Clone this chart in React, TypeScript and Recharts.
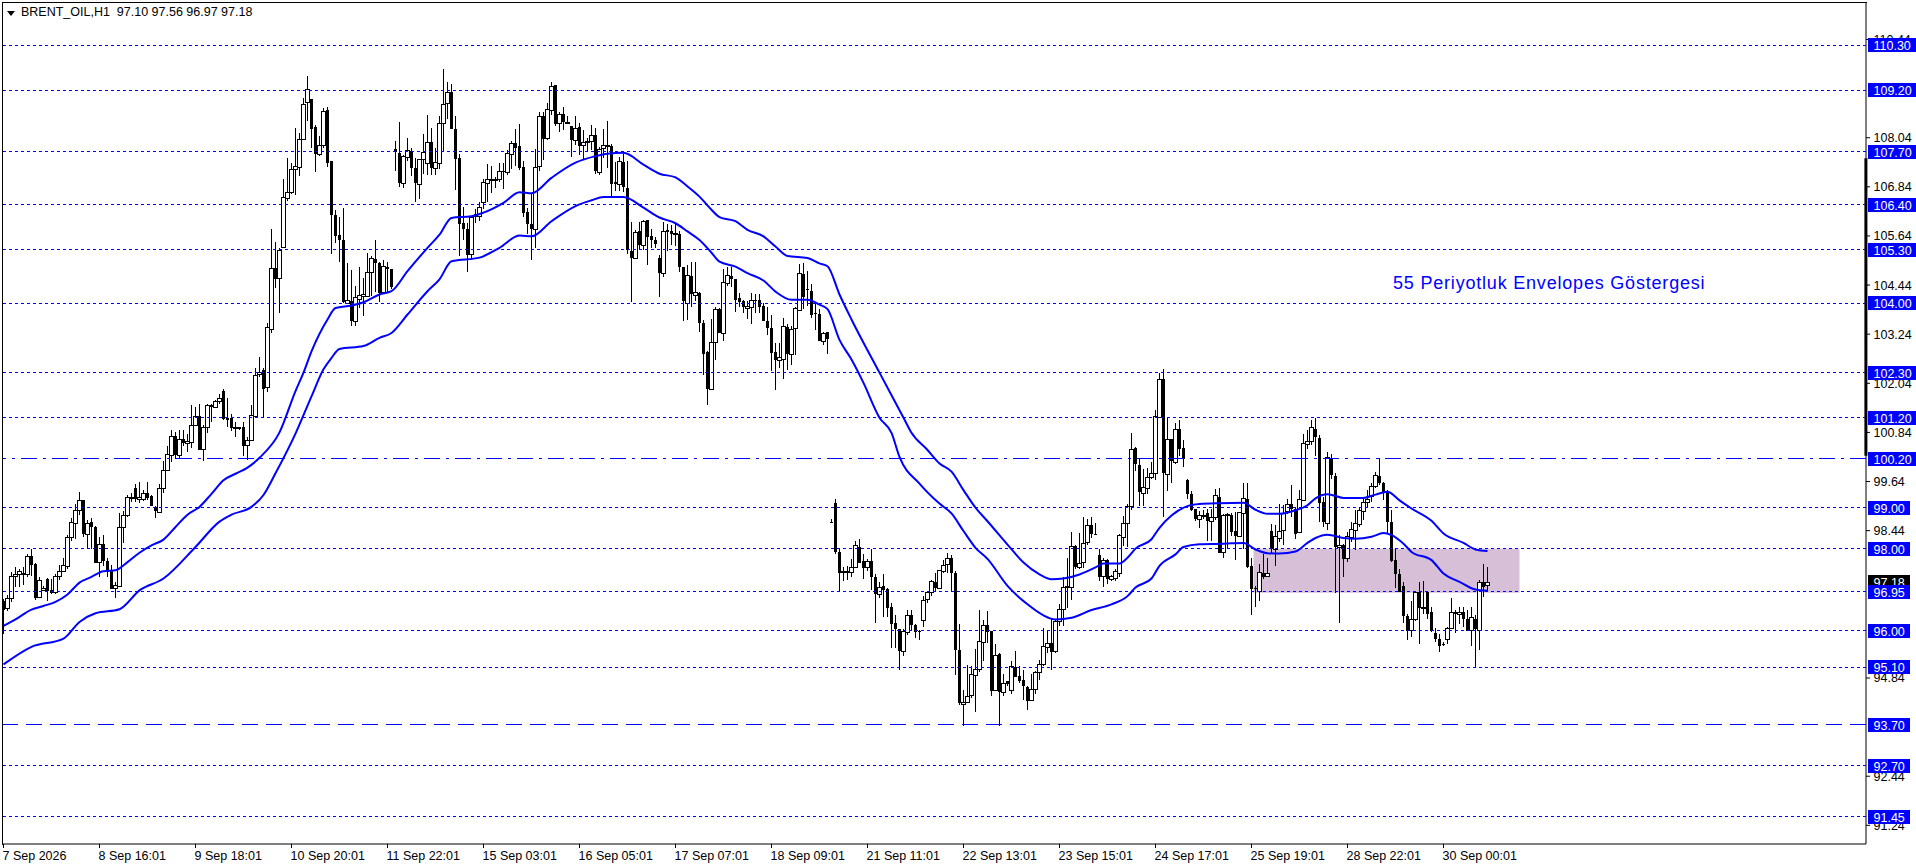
import {
  ComposedChart,
  Bar,
  Line,
  XAxis,
  YAxis,
  ReferenceLine,
  ReferenceArea,
} from "recharts";

const FONT = '"Liberation Sans", Arial, sans-serif';
const BLUE = "#0000ff";
const PRICE_DOMAIN = [90.784, 111.331];

const opens = [
  96.72, 96.54, 96.8, 97.33, 97.38, 97.41, 97.39, 97.83, 97.62, 96.82,
  96.99, 97.27, 97.0, 96.93, 97.33, 97.46, 97.58, 98.29, 98.63, 98.94,
  99.2, 98.37, 98.64, 98.54, 97.67, 98.12, 97.71, 97.49, 97.04, 97.08,
  98.53, 98.81, 99.25, 99.47, 99.21, 99.22, 99.37, 99.28, 99.02, 98.9,
  99.47, 99.92, 100.28, 100.75, 100.28, 100.69, 100.58, 100.61, 101.01, 101.25,
  100.44, 100.97, 101.49, 101.46, 101.61, 101.84, 101.18, 101.18, 100.95, 100.96,
  100.96, 100.54, 100.66, 101.25, 102.26, 102.36, 101.94, 103.36, 104.85, 104.61,
  105.38, 106.56, 106.72, 107.27, 107.32, 108.0, 108.91, 108.98, 108.3, 107.64,
  107.86, 108.72, 107.48, 106.15, 105.67, 105.54, 104.0, 104.05, 103.57, 104.11,
  104.18, 104.18, 104.75, 105.07, 104.99, 104.26, 104.88, 104.83, 107.76, 107.66,
  106.94, 107.58, 107.71, 107.29, 106.91, 107.51, 107.42, 107.94, 107.3, 107.43,
  108.41, 108.88, 109.16, 108.25, 107.55, 105.95, 105.8, 105.19, 106.18, 106.13,
  106.48, 106.93, 107.03, 107.03, 107.03, 107.23, 107.2, 107.64, 107.91, 107.84,
  107.33, 106.22, 105.93, 105.82, 107.34, 108.56, 108.04, 108.72, 109.33, 108.41,
  108.62, 108.43, 108.33, 107.99, 108.3, 107.85, 107.93, 107.97, 108.11, 107.21,
  107.8, 107.84, 107.84, 106.96, 106.92, 107.45, 106.81, 105.28, 105.09, 105.76,
  105.43, 106.02, 105.64, 105.54, 105.1, 104.73, 105.79, 105.76, 105.7, 105.69,
  104.89, 104.01, 104.66, 104.2, 104.24, 103.51, 102.8, 101.91, 103.06, 103.85,
  103.28, 104.5, 104.66, 104.58, 104.12, 104.04, 103.87, 103.9, 104.08, 104.08,
  103.93, 103.56, 103.39, 102.8, 102.61, 102.64, 103.42, 102.75, 103.38, 103.83,
  104.71, 104.35, 104.29, 103.75, 103.74, 103.08, 103.29, 98.66, 99.11, 97.93,
  97.44, 97.45, 97.43, 97.55, 98.05, 97.69, 97.55, 97.69, 97.3, 96.89,
  97.09, 97.02, 96.58, 96.19, 96.03, 95.49, 95.96, 96.39, 96.13, 95.99,
  96.26, 96.77, 96.95, 97.19, 97.04, 97.45, 97.62, 97.78, 97.41, 95.52,
  94.21, 94.26, 94.42, 94.92, 95.05, 95.72, 96.13, 95.98, 94.54, 95.42,
  94.5, 94.76, 94.55, 95.1, 94.9, 94.8, 94.63, 94.3, 94.56, 94.98,
  95.17, 95.6, 95.69, 95.49, 96.23, 96.53, 97.08, 97.07, 98.06, 97.56,
  97.67, 98.16, 98.57, 98.37, 97.84, 97.33, 97.72, 97.26, 97.29, 97.41,
  98.29, 98.62, 99.04, 100.45, 100.05, 99.35, 99.48, 99.75, 99.84, 101.22,
  102.15, 99.82, 100.69, 100.12, 100.93, 100.47, 99.67, 99.33, 98.96, 98.72,
  98.82, 98.86, 98.67, 98.77, 99.27, 97.92, 98.84, 98.81, 98.44, 98.31,
  98.88, 99.22, 97.58, 97.03, 96.96, 97.41, 97.34, 98.44, 98.0, 98.25,
  98.45, 98.91, 99.1, 98.98, 98.41, 99.2, 100.56, 100.64, 100.93, 100.71,
  99.15, 98.63, 100.22, 99.78, 98.04, 98.09, 97.76, 98.29, 98.45, 98.61,
  98.92, 99.15, 99.28, 99.52, 99.77, 99.61, 99.39, 98.65, 97.73, 97.39,
  97.08, 96.35, 96.02, 96.27, 96.94, 96.58, 96.94, 96.44, 95.94, 95.8,
  95.68, 95.79, 96.07, 96.45, 96.41, 96.46, 96.29, 96.01, 96.29, 96.01,
  97.18, 97.1,
];
const closes = [
  96.5, 96.8, 97.33, 97.39, 97.45, 97.36, 97.83, 97.6, 96.79, 97.24,
  97.05, 96.96, 96.92, 97.32, 97.46, 97.59, 98.29, 98.66, 98.95, 99.2,
  98.35, 98.63, 98.52, 97.65, 98.12, 97.7, 97.44, 97.02, 97.1, 98.54,
  98.83, 99.25, 99.26, 99.21, 99.27, 99.37, 99.24, 99.04, 98.92, 99.47,
  99.92, 100.31, 100.75, 100.28, 100.69, 100.57, 100.64, 101.03, 101.25, 100.41,
  100.96, 101.52, 101.5, 101.61, 101.68, 101.16, 101.15, 100.95, 100.96, 100.92,
  100.51, 100.66, 101.27, 102.25, 102.31, 101.89, 103.42, 104.85, 104.58, 105.3,
  106.59, 106.71, 107.28, 107.34, 108.0, 108.86, 109.22, 108.26, 107.63, 107.86,
  108.69, 107.43, 106.14, 105.63, 105.54, 104.02, 104.08, 103.57, 104.14, 104.19,
  104.22, 104.75, 105.1, 104.99, 104.24, 104.91, 104.83, 104.4, 107.69, 106.94,
  107.6, 107.73, 107.29, 106.93, 107.51, 107.7, 107.94, 107.29, 107.45, 108.39,
  108.86, 109.16, 108.26, 107.51, 105.92, 105.82, 105.17, 106.11, 106.11, 106.34,
  106.95, 107.03, 107.04, 107.04, 107.22, 107.2, 107.66, 107.91, 107.8, 107.31,
  106.21, 105.92, 105.82, 107.32, 108.57, 108.02, 108.74, 109.3, 108.37, 108.61,
  108.43, 108.43, 107.99, 108.28, 107.84, 107.93, 107.97, 108.11, 107.23, 107.77,
  107.86, 107.86, 106.91, 106.9, 107.47, 106.83, 105.3, 105.11, 105.74, 105.43,
  106.01, 105.62, 105.53, 105.45, 104.73, 105.77, 105.74, 105.69, 105.71, 104.87,
  104.04, 104.68, 104.22, 104.27, 103.51, 102.76, 101.91, 103.04, 103.86, 103.26,
  104.52, 104.68, 104.6, 104.08, 104.03, 103.91, 103.93, 104.08, 104.04, 103.91,
  103.57, 103.38, 102.79, 102.6, 102.68, 103.43, 102.75, 103.36, 103.88, 104.73,
  104.14, 104.31, 103.71, 103.73, 103.08, 103.26, 103.13, 98.65, 97.92, 97.41,
  97.45, 97.46, 97.54, 98.08, 97.65, 97.53, 97.69, 97.31, 96.89, 97.07,
  97.0, 96.55, 96.16, 96.03, 95.49, 95.98, 96.39, 96.13, 95.96, 95.96,
  96.75, 96.93, 97.22, 97.05, 97.47, 97.61, 97.78, 97.4, 95.52, 94.22,
  94.26, 94.4, 94.94, 95.05, 95.75, 96.14, 95.96, 94.52, 95.41, 94.5,
  94.72, 94.69, 95.13, 94.86, 94.77, 94.64, 94.28, 94.57, 94.98, 95.17,
  95.63, 95.7, 95.47, 96.24, 96.53, 97.07, 97.09, 98.06, 97.54, 97.66,
  98.15, 98.57, 98.35, 98.34, 97.31, 97.72, 97.25, 97.32, 97.45, 98.33,
  98.62, 99.04, 100.44, 100.06, 99.38, 99.51, 99.76, 99.86, 101.24, 102.15,
  99.84, 100.69, 100.14, 100.93, 100.43, 100.2, 99.34, 98.95, 98.73, 98.82,
  98.83, 98.67, 98.78, 99.3, 97.9, 98.81, 98.85, 98.41, 98.31, 98.9,
  99.23, 97.56, 97.01, 97.01, 97.44, 97.31, 97.41, 98.0, 98.3, 98.44,
  98.87, 99.1, 98.98, 98.37, 99.22, 100.57, 100.64, 100.96, 100.73, 99.12,
  98.65, 100.24, 99.79, 98.04, 98.09, 97.74, 98.3, 98.47, 98.63, 98.94,
  99.15, 99.21, 99.52, 99.79, 99.61, 99.39, 98.65, 97.7, 97.38, 96.94,
  96.35, 95.99, 96.29, 96.94, 96.56, 96.58, 96.41, 95.99, 95.79, 95.62,
  95.65, 96.07, 96.44, 96.4, 96.44, 96.27, 95.99, 96.32, 96.03, 97.18,
  97.06, 97.18,
];
const highs = [
  96.78, 96.86, 97.43, 97.55, 97.51, 97.55, 97.86, 98.0, 97.65, 97.31,
  97.08, 97.28, 97.26, 97.39, 97.59, 97.76, 98.33, 98.76, 99.1, 99.39,
  99.2, 98.69, 98.76, 98.55, 98.29, 98.33, 97.78, 97.59, 97.18, 98.86,
  98.92, 99.3, 99.37, 99.59, 99.64, 99.44, 99.63, 99.3, 99.04, 99.57,
  100.13, 100.5, 100.91, 100.85, 100.91, 100.91, 100.81, 101.5, 101.46, 101.53,
  101.01, 101.53, 101.53, 101.64, 101.77, 101.89, 101.67, 101.3, 101.1, 100.97,
  101.1, 100.73, 101.5, 102.41, 102.67, 102.42, 103.52, 105.81, 105.49, 105.34,
  107.03, 107.54, 107.43, 108.27, 108.15, 109.0, 109.55, 108.98, 108.35, 108.08,
  108.76, 108.78, 107.48, 106.28, 106.11, 106.32, 104.97, 104.81, 104.42, 104.89,
  104.61, 105.22, 105.14, 105.54, 105.01, 105.04, 105.01, 104.84, 107.95, 108.43,
  107.62, 108.03, 107.78, 107.54, 107.51, 108.13, 108.6, 108.27, 107.78, 108.56,
  109.73, 109.4, 109.35, 108.57, 107.64, 106.34, 105.95, 106.11, 106.3, 106.46,
  107.03, 107.4, 107.35, 107.09, 107.43, 107.43, 107.73, 107.95, 108.25, 108.38,
  107.46, 106.32, 106.68, 107.76, 108.68, 108.68, 108.88, 109.4, 109.33, 108.66,
  108.78, 108.57, 108.33, 108.57, 108.41, 108.23, 108.03, 108.35, 108.27, 107.81,
  108.25, 108.45, 107.89, 107.45, 107.56, 107.7, 107.46, 105.97, 105.79, 105.97,
  106.03, 106.03, 105.81, 105.62, 105.18, 105.97, 105.93, 105.9, 105.95, 105.75,
  104.89, 104.93, 105.01, 105.01, 104.26, 103.59, 102.82, 103.6, 103.9, 103.87,
  104.83, 104.89, 104.89, 104.58, 104.24, 104.08, 104.04, 104.24, 104.22, 104.22,
  104.0, 103.91, 103.71, 103.02, 103.02, 103.63, 103.49, 103.43, 103.91, 104.96,
  104.97, 104.79, 104.46, 104.0, 103.85, 103.3, 103.29, 98.72, 99.22, 98.0,
  97.56, 97.58, 97.74, 98.19, 98.23, 97.86, 97.74, 97.98, 97.37, 97.19,
  97.37, 97.05, 96.68, 96.37, 96.04, 96.03, 96.5, 96.5, 96.16, 96.01,
  96.84, 96.94, 97.23, 97.41, 97.49, 97.72, 97.9, 97.85, 97.45, 96.15,
  94.54, 95.16, 95.13, 95.56, 96.49, 96.26, 96.47, 95.98, 95.66, 95.46,
  94.93, 94.76, 95.26, 95.49, 95.13, 95.03, 94.64, 94.93, 95.01, 95.29,
  96.07, 96.01, 96.31, 96.26, 96.64, 97.31, 97.76, 98.41, 98.1, 98.39,
  98.78, 98.72, 98.78, 98.63, 97.98, 97.78, 97.74, 97.35, 97.51, 98.35,
  98.8, 99.08, 100.83, 100.48, 100.22, 99.94, 99.98, 100.12, 101.39, 102.28,
  102.38, 101.2, 100.69, 101.08, 101.14, 100.65, 99.69, 99.41, 98.98, 98.92,
  98.94, 98.98, 98.98, 99.45, 99.49, 98.84, 98.88, 98.88, 98.9, 98.9,
  99.6, 99.61, 97.76, 97.09, 97.62, 97.88, 97.78, 98.61, 98.57, 99.1,
  99.06, 99.22, 99.55, 99.02, 99.43, 100.79, 100.89, 101.14, 101.2, 100.77,
  99.25, 100.36, 100.32, 99.86, 98.33, 98.12, 98.41, 98.65, 98.94, 99.02,
  99.25, 99.43, 99.61, 99.87, 100.22, 99.63, 99.43, 98.94, 98.0, 97.51,
  97.18, 96.41, 96.72, 96.94, 97.18, 97.2, 96.94, 96.58, 96.07, 95.92,
  95.72, 96.09, 96.8, 96.49, 96.58, 96.58, 96.49, 96.58, 96.37, 97.23,
  97.63, 97.56,
];
const lows = [
  95.93, 96.48, 96.7, 97.06, 97.08, 97.11, 97.29, 97.35, 96.74, 96.8,
  96.98, 96.71, 96.89, 96.9, 97.23, 97.42, 97.51, 98.19, 98.25, 98.84,
  98.29, 98.0, 98.0, 97.65, 97.31, 97.57, 97.31, 97.0, 96.78, 97.06,
  98.14, 98.76, 99.14, 99.14, 99.12, 99.17, 99.18, 99.02, 98.75, 98.86,
  99.34, 99.92, 100.12, 100.18, 100.2, 100.53, 100.36, 100.44, 101.01, 100.41,
  100.12, 100.83, 101.1, 101.46, 101.53, 101.14, 100.96, 100.89, 100.73, 100.89,
  100.28, 100.16, 100.63, 101.22, 102.18, 101.2, 101.84, 103.28, 104.36, 103.75,
  105.34, 106.48, 106.67, 106.64, 107.09, 108.0, 108.46, 107.78, 107.21, 107.58,
  107.78, 107.31, 105.2, 105.48, 105.01, 104.0, 103.96, 103.43, 103.44, 103.9,
  103.69, 104.16, 104.16, 104.28, 104.04, 104.24, 104.28, 104.36, 107.21, 106.83,
  106.81, 107.46, 107.09, 106.46, 106.53, 107.16, 107.13, 107.11, 107.13, 107.27,
  107.7, 108.49, 108.26, 106.75, 105.15, 105.54, 104.75, 105.05, 105.95, 105.99,
  106.29, 106.48, 106.7, 106.83, 106.97, 106.8, 107.13, 107.27, 107.34, 107.25,
  106.09, 105.69, 105.05, 105.34, 107.24, 107.5, 107.97, 108.59, 108.33, 108.18,
  108.21, 108.37, 107.58, 107.86, 107.62, 107.5, 107.7, 107.74, 107.15, 107.13,
  107.54, 107.29, 106.62, 106.75, 106.72, 106.72, 105.2, 104.01, 105.07, 105.32,
  105.3, 104.93, 105.35, 105.34, 104.16, 104.62, 105.28, 105.42, 105.38, 104.75,
  103.57, 103.59, 103.91, 104.06, 103.28, 102.25, 101.49, 101.91, 102.61, 103.26,
  103.06, 104.42, 104.4, 103.78, 103.91, 103.77, 103.59, 103.49, 103.75, 103.75,
  103.55, 103.22, 102.33, 101.86, 102.41, 102.14, 102.37, 102.47, 102.73, 103.82,
  103.85, 103.93, 103.63, 103.33, 103.06, 102.98, 102.76, 98.63, 97.88, 96.94,
  97.23, 97.23, 97.31, 97.53, 97.64, 97.25, 97.45, 96.99, 96.17, 96.8,
  96.33, 96.34, 95.59, 95.56, 95.03, 95.38, 95.88, 96.01, 95.81, 95.77,
  96.08, 96.66, 96.83, 96.96, 97.04, 97.4, 97.41, 96.96, 94.9, 94.17,
  93.67, 94.24, 94.36, 94.03, 94.97, 95.27, 95.69, 94.4, 94.52, 93.67,
  94.4, 94.64, 94.46, 94.85, 94.72, 94.3, 94.06, 94.28, 94.46, 94.79,
  95.13, 95.46, 95.03, 95.46, 96.11, 96.11, 96.53, 96.74, 97.51, 97.51,
  97.53, 98.08, 98.27, 98.33, 97.21, 97.06, 97.13, 97.21, 97.21, 97.29,
  98.07, 98.02, 98.96, 99.9, 99.04, 99.04, 99.35, 99.71, 99.68, 101.2,
  98.77, 99.41, 99.61, 100.09, 100.26, 100.0, 99.19, 98.92, 98.69, 98.51,
  98.73, 98.19, 98.19, 98.7, 97.89, 97.76, 98.02, 98.31, 97.72, 98.29,
  97.98, 97.54, 96.37, 96.58, 96.72, 97.27, 97.34, 97.88, 97.57, 98.16,
  98.08, 98.86, 98.77, 98.25, 98.38, 99.18, 100.43, 100.53, 100.28, 98.65,
  98.51, 98.45, 99.71, 96.92, 96.17, 97.31, 97.68, 98.16, 97.96, 98.53,
  98.69, 98.98, 99.14, 99.49, 99.55, 99.18, 98.38, 97.68, 97.04, 96.94,
  96.17, 95.78, 95.84, 96.23, 95.66, 96.4, 96.27, 95.97, 95.72, 95.48,
  95.62, 95.68, 96.07, 95.94, 96.17, 96.09, 95.97, 95.62, 95.07, 95.52,
  96.82, 96.97,
];

// envelope knots, [bar, price]
const upperKnots = [
  [0, 96.11], [3, 96.27], [7, 96.51], [10, 96.6], [13, 96.7], [16, 96.88], [19, 97.17], [22, 97.31],
  [25, 97.45], [28, 97.47], [31, 97.67], [34, 97.9], [37, 98.08], [40, 98.22], [43, 98.53], [46, 98.83],
  [49, 99.02], [52, 99.34], [55, 99.67], [58, 99.83], [61, 99.98], [64, 100.22], [69, 100.84], [73, 101.85],
  [75, 102.3], [77, 102.82], [81, 103.6], [83, 103.88], [87, 103.94], [90, 104.02], [94, 104.21], [97, 104.29],
  [101, 104.78], [106, 105.35], [109, 105.67], [112, 106.08], [117, 106.12], [120, 106.21], [125, 106.45], [129, 106.71],
  [132, 106.68], [137, 107.06], [143, 107.43], [148, 107.59], [151, 107.65], [155, 107.67], [160, 107.38], [164, 107.16],
  [168, 107.07], [171, 106.85], [174, 106.6], [177, 106.28], [179, 106.1], [183, 106.0], [186, 105.79], [190, 105.63],
  [193, 105.38], [196, 105.15], [201, 105.1], [204, 104.97], [206, 104.9], [209, 104.21], [212, 103.6], [219, 102.3],
  [225, 101.2], [227, 100.83], [231, 100.41], [234, 100.08], [237, 99.88], [240, 99.43], [243, 99.0], [246, 98.67],
  [251, 98.1], [255, 97.66], [259, 97.37], [262, 97.25], [265, 97.27], [269, 97.37], [273, 97.54], [275, 97.64],
  [279, 97.64], [281, 97.78], [283, 98.0], [287, 98.23], [289, 98.51], [292, 98.81], [296, 99.04], [299, 99.09],
  [304, 99.11], [310, 99.12], [313, 98.95], [316, 98.85], [319, 98.85], [323, 98.94], [326, 99.06], [328, 99.23],
  [331, 99.33], [335, 99.24], [340, 99.24], [343, 99.32], [346, 99.39], [349, 99.18], [352, 98.98], [357, 98.68],
  [360, 98.37], [365, 98.14], [368, 97.98], [371, 97.94],
];
const lowerKnots = [
  [0, 95.17], [7, 95.6], [15, 95.8], [19, 96.21], [23, 96.42], [29, 96.52], [34, 96.98], [40, 97.27],
  [48, 98.04], [54, 98.66], [57, 98.83], [62, 99.02], [65, 99.31], [68, 99.84], [73, 100.81], [77, 101.72],
  [80, 102.38], [82, 102.66], [84, 102.88], [90, 102.95], [94, 103.15], [97, 103.27], [101, 103.72], [106, 104.29],
  [109, 104.58], [112, 105.02], [119, 105.11], [124, 105.35], [129, 105.65], [132, 105.63], [137, 106.0], [143, 106.37],
  [147, 106.51], [150, 106.59], [155, 106.59], [160, 106.33], [164, 106.09], [168, 105.95], [171, 105.75], [174, 105.54],
  [177, 105.23], [179, 105.01], [183, 104.89], [186, 104.73], [190, 104.55], [193, 104.28], [197, 104.08], [201, 104.08],
  [204, 103.96], [206, 103.85], [209, 103.1], [212, 102.62], [215, 102.05], [219, 101.2], [222, 100.83], [224, 100.24],
  [229, 99.59], [234, 99.1], [237, 98.86], [240, 98.43], [243, 98.02], [246, 97.75], [251, 97.09], [256, 96.64],
  [260, 96.37], [263, 96.27], [267, 96.31], [272, 96.5], [277, 96.64], [281, 96.84], [283, 97.05], [287, 97.27],
  [289, 97.58], [293, 97.86], [295, 98.04], [299, 98.11], [305, 98.12], [310, 98.14], [313, 97.98], [316, 97.89],
  [319, 97.88], [323, 97.93], [326, 98.14], [328, 98.26], [331, 98.34], [335, 98.26], [338, 98.24], [342, 98.29],
  [345, 98.38], [347, 98.33], [350, 98.12], [352, 97.92], [357, 97.72], [360, 97.39], [364, 97.19], [368, 97.0],
  [371, 96.97],
];

const dottedLevels = [110.3, 109.2, 107.7, 106.4, 105.3, 104.0, 102.3, 101.2, 99.0, 98.0, 96.95, 96.0, 95.1, 92.7, 91.45];
const dashDotLevels = [100.2];
const dashLevels = [93.7];
const priceTicks = [110.44, 108.04, 106.84, 105.64, 104.44, 103.24, 102.04, 100.84, 99.64, 98.44, 94.84, 92.44, 91.24];
const dateTicks = [0, 24, 48, 72, 96, 120, 144, 168, 192, 216, 240, 264, 288, 312, 336, 360];
const dateLabels = [
  "7 Sep 2026", "8 Sep 16:01", "9 Sep 18:01", "10 Sep 20:01", "11 Sep 22:01", "15 Sep 03:01",
  "16 Sep 05:01", "17 Sep 07:01", "18 Sep 09:01", "21 Sep 11:01", "22 Sep 13:01", "23 Sep 15:01",
  "24 Sep 17:01", "25 Sep 19:01", "28 Sep 22:01", "30 Sep 00:01",
];
const lastPrice = 97.18;
const tagTicks = [lastPrice, ...dottedLevels, ...dashDotLevels, ...dashLevels];

const upperByBar = new Map(upperKnots.map(([b, v]) => [b, v]));
const lowerByBar = new Map(lowerKnots.map(([b, v]) => [b, v]));

const rows = opens.map((open, i) => ({
  bar: i,
  open,
  close: closes[i],
  high: highs[i],
  low: lows[i],
  range: [lows[i], highs[i]],
  upper: upperByBar.get(i),
  lower: lowerByBar.get(i),
}));

function Candle(props: any) {
  const { x, y, width, height, payload } = props;
  const { open, close, high, low } = payload;
  const cx = Math.floor(x + width / 2);
  const perUnit = high > low ? height / (high - low) : 0;
  const top = Math.round(y + (high - Math.max(open, close)) * perUnit);
  const bottom = Math.round(y + (high - Math.min(open, close)) * perUnit);
  const up = close >= open;
  return (
    <g shapeRendering="crispEdges">
      <rect x={cx} y={Math.round(y)} width={1} height={Math.max(1, Math.round(height))} fill="#000" />
      {up ? (
        <rect x={cx - 1.5} y={top + 0.5} width={4} height={Math.max(1, bottom - top)} fill="#fff" stroke="#000" strokeWidth={1} />
      ) : (
        <rect x={cx - 1} y={top} width={3} height={Math.max(1, bottom - top)} fill="#000" />
      )}
    </g>
  );
}

function DateTick({ x, y, payload }: any) {
  const label = dateLabels[dateTicks.indexOf(payload.value)];
  return (
    <g>
      <line x1={x} x2={x} y1={y - 8} y2={y - 4} stroke="#000" />
      <text x={x - 1} y={y + 8} fontFamily={FONT} fontSize={12.5} fill="#000">
        {label}
      </text>
    </g>
  );
}

function PriceTick({ y, payload }: any) {
  return (
    <g>
      <line x1={1866} x2={1870} y1={y} y2={y} stroke="#000" />
      <text x={1873.5} y={y + 4.5} fontFamily={FONT} fontSize={12.5} fill="#000">
        {payload.value.toFixed(2)}
      </text>
    </g>
  );
}

function TagTick({ y, payload }: any) {
  const text = payload.value.toFixed(2);
  const isLast = payload.value === lastPrice;
  return (
    <g>
      <rect x={1868} y={Math.round(y) - 7} width={text.length > 5 ? 48 : 42} height={14} fill={isLast ? "#000" : BLUE} shapeRendering="crispEdges" />
      <text x={1873.5} y={y + 5} fontFamily={FONT} fontSize={12.5} fill="#fff">
        {text}
      </text>
    </g>
  );
}

export default function App() {
  return (
    <div style={{ position: "fixed", left: 0, top: 0, width: 1916, height: 868, background: "#fff", overflow: "hidden" }}>
      <ComposedChart
        width={1916}
        height={868}
        data={rows}
        margin={{ top: 3, right: 0, bottom: 0, left: 3 }}
      >
        <XAxis
          dataKey="bar"
          type="number"
          domain={[-0.125, 465.625]}
          allowDataOverflow
          ticks={dateTicks}
          interval={0}
          tick={<DateTick />}
          tickLine={false}
          height={24}
          axisLine={{ stroke: "#000" }}
        />
        <YAxis
          orientation="right"
          type="number"
          domain={PRICE_DOMAIN}
          allowDataOverflow
          ticks={priceTicks}
          interval={0}
          tick={<PriceTick />}
          tickLine={false}
          width={49}
          axisLine={{ stroke: "#000" }}
        />
        <YAxis
          yAxisId="tags"
          orientation="right"
          type="number"
          domain={PRICE_DOMAIN}
          allowDataOverflow
          ticks={tagTicks}
          interval={0}
          tick={<TagTick />}
          tickLine={false}
          axisLine={false}
          width={1}
        />
        <ReferenceArea x1={312.5} x2={379} y1={98.0} y2={96.92} fill="#d8bfd8" fillOpacity={1} stroke="none" />
        {dottedLevels.map((p) => (
          <ReferenceLine key={p} y={p} stroke={BLUE} strokeWidth={1} strokeDasharray="3 3" shapeRendering="crispEdges" />
        ))}
        {dashDotLevels.map((p) => (
          <ReferenceLine key={p} y={p} stroke={BLUE} strokeWidth={1} strokeDasharray="16 6 3 6" shapeRendering="crispEdges" />
        ))}
        {dashLevels.map((p) => (
          <ReferenceLine key={p} y={p} stroke={BLUE} strokeWidth={1} strokeDasharray="16 8" shapeRendering="crispEdges" />
        ))}
        <ReferenceLine
          segment={[
            { x: 465.6, y: 107.54 },
            { x: 465.6, y: 100.27 },
          ]}
          stroke="#000"
          strokeWidth={3}
        />
        <Bar dataKey="range" barSize={3} shape={<Candle />} isAnimationActive={false} />
        <Line dataKey="upper" type="monotone" stroke={BLUE} strokeWidth={2} dot={false} connectNulls isAnimationActive={false} />
        <Line dataKey="lower" type="monotone" stroke={BLUE} strokeWidth={2} dot={false} connectNulls isAnimationActive={false} />
      </ComposedChart>
      <div style={{ position: "absolute", left: 2, top: 2, width: 1864, height: 842, borderLeft: "1px solid #000", borderTop: "1px solid #000", pointerEvents: "none" }} />
      <div style={{ position: "absolute", left: 7, top: 11, width: 0, height: 0, borderLeft: "4px solid transparent", borderRight: "4px solid transparent", borderTop: "5px solid #000" }} />
      <div style={{ position: "absolute", left: 21, top: 5, fontFamily: FONT, fontSize: 12.5, color: "#000", whiteSpace: "pre" }}>
        {"BRENT_OIL,H1  97.10 97.56 96.97 97.18"}
      </div>
      <div style={{ position: "absolute", left: 1393, top: 273, fontFamily: FONT, fontSize: 18, color: BLUE, whiteSpace: "pre", letterSpacing: 0.8 }}>
        55 Periyotluk Envelopes Göstergesi
      </div>
    </div>
  );
}
